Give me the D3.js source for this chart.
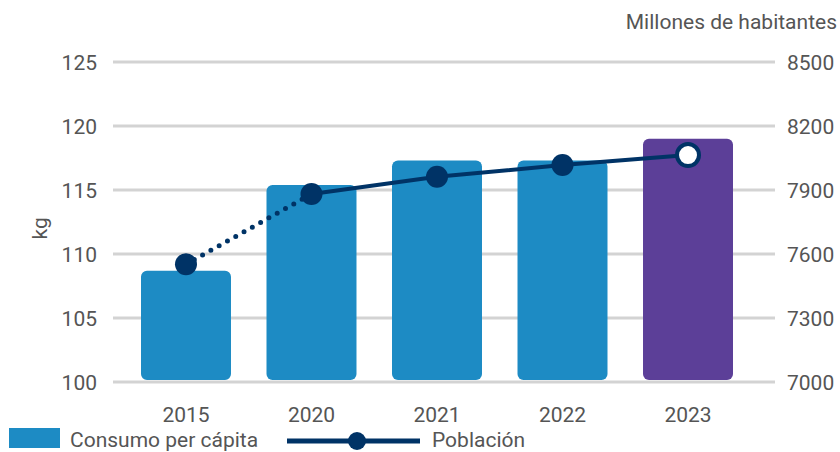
<!DOCTYPE html>
<html><head><meta charset="utf-8">
<script src="https://cdn.jsdelivr.net/npm/d3@7"></script>
<style>body{margin:0;background:#fff}svg{display:block}text{font-family:Roboto,"Noto Sans",sans-serif}</style>
</head><body>
<svg id="c" width="840" height="452"></svg>
<script>
const years = ["2015","2020","2021","2022","2023"];
const consumo = [108.7, 115.4, 117.3, 117.3, 119.0];
const poblacion = [7552, 7881, 7962, 8017, 8064];
const leftTicks = [100,105,110,115,120,125];
const rightTicks = [7000,7300,7600,7900,8200,8500];
const barColors = ["#1d8bc4","#1d8bc4","#1d8bc4","#1d8bc4","#5c3f98"];

const svg = d3.select("#c");
const navy = "#003366";
const txt = "#555";
const fs = 21;
const x = d3.scaleBand().domain(years).range([141,733]).paddingInner(0.283).paddingOuter(0);
const yL = d3.scaleLinear().domain([100,125]).range([382,62]);
const yR = d3.scaleLinear().domain([7000,8500]).range([382,62]);

// grid
svg.append("g").selectAll("line").data(leftTicks).join("line")
  .attr("x1",113).attr("x2",775).attr("y1",d=>yL(d)).attr("y2",d=>yL(d))
  .attr("stroke","#d3d3d3").attr("stroke-width",3);

// left axis labels
svg.append("g").selectAll("text").data(leftTicks).join("text")
  .attr("x",97).attr("y",d=>yL(d)).attr("dy","0.36em").attr("text-anchor","end")
  .attr("font-size",fs).attr("fill",txt).text(d=>d);
// right axis labels
svg.append("g").selectAll("text").data(rightTicks).join("text")
  .attr("x",787).attr("y",d=>yR(d)).attr("dy","0.36em").attr("text-anchor","start")
  .attr("font-size",fs).attr("fill",txt).text(d=>d);

svg.append("text").attr("transform","translate(47,"+yL(112)+") rotate(-90)")
  .attr("text-anchor","middle").attr("font-size",fs).attr("fill",txt).text("kg");
svg.append("text").attr("x",837).attr("y",29).attr("text-anchor","end")
  .attr("font-size",fs).attr("fill",txt).text("Millones de habitantes");

// bars
const r = 6;
svg.append("g").selectAll("path").data(years).join("path")
  .attr("fill",(d,i)=>barColors[i])
  .attr("d",(d,i)=>{
    const x0=x(d), w=x.bandwidth(), y0=yL(consumo[i]), y1=yL(100)-2;
    const p=d3.path();
    p.moveTo(x0+r,y0); p.lineTo(x0+w-r,y0); p.arcTo(x0+w,y0,x0+w,y0+r,r);
    p.lineTo(x0+w,y1-r); p.arcTo(x0+w,y1,x0+w-r,y1,r);
    p.lineTo(x0+r,y1); p.arcTo(x0,y1,x0,y1-r,r);
    p.lineTo(x0,y0+r); p.arcTo(x0,y0,x0+r,y0,r); p.closePath();
    return p.toString();
  });

// x labels
svg.append("g").selectAll("text").data(years).join("text")
  .attr("x",d=>x(d)+x.bandwidth()/2).attr("y",422).attr("text-anchor","middle")
  .attr("font-size",fs).attr("fill",txt).text(d=>d);

const cx = d=>x(d)+x.bandwidth()/2;
const pts = years.map((d,i)=>[cx(d), yR(poblacion[i])]);
// dotted segment
svg.append("line").attr("x1",pts[0][0]).attr("y1",pts[0][1]).attr("x2",pts[1][0]).attr("y2",pts[1][1])
  .attr("stroke",navy).attr("stroke-width",5).attr("stroke-linecap","round").attr("stroke-dasharray","0,9.5");
// solid
svg.append("path").datum(pts.slice(1)).attr("d",d3.line())
  .attr("fill","none").attr("stroke",navy).attr("stroke-width",4);
// markers
svg.append("g").selectAll("circle").data(pts).join("circle")
  .attr("cx",d=>d[0]).attr("cy",d=>d[1])
  .attr("r",11)
  .attr("fill",(d,i)=>i===4?"#fff":navy)
  .attr("stroke",navy).attr("stroke-width",(d,i)=>i===4?4:0);

// legend
svg.append("rect").attr("x",9).attr("y",428).attr("width",51).attr("height",20).attr("fill","#1d8bc4");
svg.append("text").attr("x",70).attr("y",447).attr("font-size",fs).attr("fill",txt).text("Consumo per cápita");
svg.append("line").attr("x1",287).attr("x2",420).attr("y1",441).attr("y2",441).attr("stroke",navy).attr("stroke-width",5);
svg.append("circle").attr("cx",357).attr("cy",441).attr("r",9).attr("fill",navy);
svg.append("text").attr("x",432).attr("y",447).attr("font-size",fs).attr("fill",txt).text("Población");
</script>
</body></html>
